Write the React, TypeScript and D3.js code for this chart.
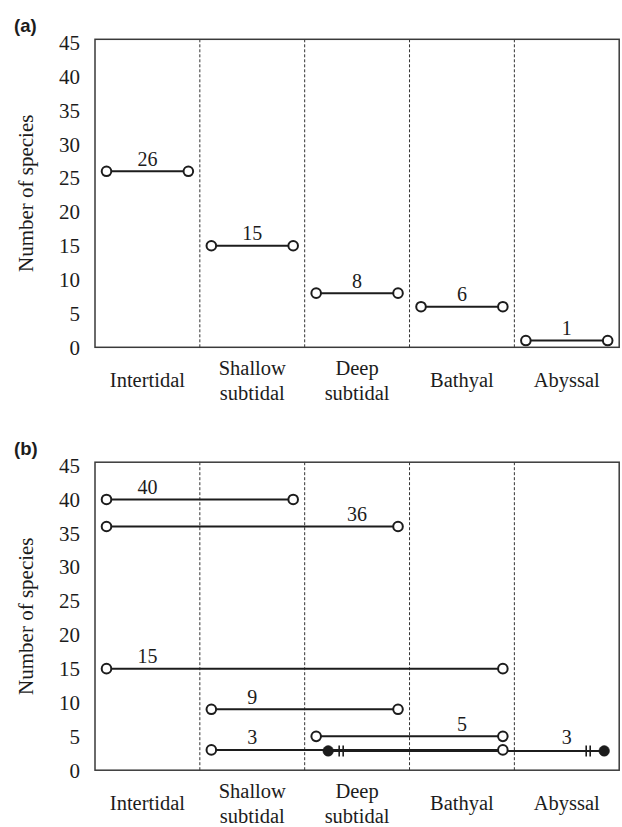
import { useEffect, useRef } from "react";
import * as d3 from "d3";

// depth zones along the x axis
const zones = ["Intertidal", "Shallow subtidal", "Deep subtidal", "Bathyal", "Abyssal"];
const yTicks = [0, 5, 10, 15, 20, 25, 30, 35, 40, 45];

// (a) species restricted to a single zone
const zoneCounts = [26, 15, 8, 6, 1];

// (b) species spanning several zones
const spanCounts = [40, 36, 15, 9, 5, 3, 3];
const spanFrom = [0, 0, 0, 1, 2, 1, 2];
const spanTo = [1, 2, 3, 2, 3, 3, 4];
const spanFromMark = ["open", "open", "open", "open", "open", "open", "filled"];
const spanToMark = ["open", "open", "open", "open", "open", "open", "filled"];
const spanLabelZone = [0, 2, 0, 1, 3, 1, 4];

const W = 622;
const H = 827;
const left = 95;
const right = 619.2;
const panelH = 308;
const panels = [
  { tag: "(a)", top: 39.3 },
  { tag: "(b)", top: 462.2 },
];

const serif = "'Liberation Serif', 'Times New Roman', serif";
const ink = "#1c1c1c";

export default function App() {
  const svgRef = useRef<SVGSVGElement>(null);

  useEffect(() => {
    if (!svgRef.current) return;
    const svg = d3.select(svgRef.current);
    svg.selectAll("*").remove();

    // x position in "zone units": 0 = left of Intertidal, 5 = right of Abyssal
    const x = d3.scaleLinear().domain([0, zones.length]).range([left, right]);
    const openInset = 11.5;
    const filledInset = { start: 23.5, end: 15 };

    panels.forEach((p, pi) => {
      const bottom = p.top + panelH;
      const y = d3.scaleLinear().domain([0, 45.5]).range([bottom, p.top]);
      const g = svg.append("g");

      // panel tag
      g.append("text")
        .attr("x", 14)
        .attr("y", p.top - 7.5)
        .attr("font-family", "'Liberation Sans', Arial, sans-serif")
        .attr("font-weight", "bold")
        .attr("font-size", 18.5)
        .attr("fill", ink)
        .text(p.tag);

      // dashed zone separators
      g.selectAll(".sep")
        .data(d3.range(1, zones.length))
        .enter()
        .append("line")
        .attr("x1", (d) => x(d))
        .attr("x2", (d) => x(d))
        .attr("y1", p.top)
        .attr("y2", bottom)
        .attr("stroke", "#333")
        .attr("stroke-width", 1)
        .attr("stroke-dasharray", "3,2");

      // frame
      g.append("rect")
        .attr("x", left)
        .attr("y", p.top)
        .attr("width", right - left)
        .attr("height", panelH)
        .attr("fill", "none")
        .attr("stroke", "#3a3a3a")
        .attr("stroke-width", 1.5);

      // y tick labels
      g.selectAll(".tick")
        .data(yTicks)
        .enter()
        .append("text")
        .attr("x", 80)
        .attr("y", (d) => y(d))
        .attr("dy", "0.35em")
        .attr("text-anchor", "end")
        .attr("font-family", serif)
        .attr("font-size", 21)
        .attr("fill", ink)
        .text((d) => d);

      // y axis title
      g.append("text")
        .attr("transform", `translate(33, ${p.top + panelH / 2}) rotate(-90)`)
        .attr("text-anchor", "middle")
        .attr("font-family", serif)
        .attr("font-size", 21)
        .attr("fill", ink)
        .text("Number of species");

      // zone labels
      zones.forEach((z, i) => {
        const lines = z.split(" ");
        const t = g
          .append("text")
          .attr("text-anchor", "middle")
          .attr("font-family", serif)
          .attr("font-size", 20.5)
          .attr("fill", ink);
        lines.forEach((ln, li) => {
          const cy = lines.length === 1 ? bottom + 33 : bottom + 21 + li * 24.5;
          t.append("tspan")
            .attr("x", x(i + 0.5))
            .attr("y", cy)
            .attr("dy", "0.35em")
            .text(ln);
        });
      });

      // build ranges for this panel
      const ranges =
        pi === 0
          ? zoneCounts.map((c, i) => ({
              count: c,
              from: i,
              to: i,
              fromMark: "open",
              toMark: "open",
              labelX: x(i + 0.5),
            }))
          : spanCounts.map((c, i) => ({
              count: c,
              from: spanFrom[i],
              to: spanTo[i],
              fromMark: spanFromMark[i],
              toMark: spanToMark[i],
              labelX: x(spanLabelZone[i] + 0.5),
            }));

      const items = ranges.map((r, i) => {
        const x1 = x(r.from) + (r.fromMark === "open" ? openInset : filledInset.start);
        const x2 = x(r.to + 1) - (r.toMark === "open" ? openInset : filledInset.end);
        // ranges sharing a count overlap; nudge so both stay visible
        const dup = ranges.slice(0, i).some((q) => q.count === r.count);
        return { ...r, x1, x2, cy: y(r.count) + (dup ? 1 : 0) };
      });

      const marks = g.append("g");

      marks
        .selectAll(".range")
        .data(items)
        .enter()
        .append("line")
        .attr("x1", (d) => d.x1)
        .attr("x2", (d) => d.x2)
        .attr("y1", (d) => d.cy)
        .attr("y2", (d) => d.cy)
        .attr("stroke", ink)
        .attr("stroke-width", 2);

      // break marks beside filled ends
      items.forEach((d) => {
        const bars: number[] = [];
        if (d.fromMark === "filled") bars.push(d.x1 + 11, d.x1 + 15);
        if (d.toMark === "filled") bars.push(d.x2 - 14, d.x2 - 18);
        bars.forEach((bx) => {
          marks
            .append("line")
            .attr("x1", bx)
            .attr("x2", bx)
            .attr("y1", d.cy - 5.5)
            .attr("y2", d.cy + 5.5)
            .attr("stroke", ink)
            .attr("stroke-width", 1.6);
        });
      });

      const ends = items.flatMap((d) => [
        { x: d.x1, y: d.cy, mark: d.fromMark },
        { x: d.x2, y: d.cy, mark: d.toMark },
      ]);

      marks
        .selectAll(".end")
        .data(ends)
        .enter()
        .append("circle")
        .attr("cx", (d) => d.x)
        .attr("cy", (d) => d.y)
        .attr("r", (d) => (d.mark === "open" ? 4.8 : 5.3))
        .attr("fill", (d) => (d.mark === "open" ? "#fff" : ink))
        .attr("stroke", ink)
        .attr("stroke-width", (d) => (d.mark === "open" ? 2 : 0.5));

      // counts above each range
      marks
        .selectAll(".count")
        .data(items)
        .enter()
        .append("text")
        .attr("x", (d) => d.labelX)
        .attr("y", (d) => y(d.count) - 12.5)
        .attr("dy", "0.35em")
        .attr("text-anchor", "middle")
        .attr("font-family", serif)
        .attr("font-size", 20)
        .attr("fill", ink)
        .text((d) => d.count);
    });
  }, []);

  return (
    <svg
      ref={svgRef}
      width={W}
      height={H}
      viewBox={`0 0 ${W} ${H}`}
      style={{ position: "absolute", left: 0, top: 0, background: "#fff" }}
    />
  );
}
